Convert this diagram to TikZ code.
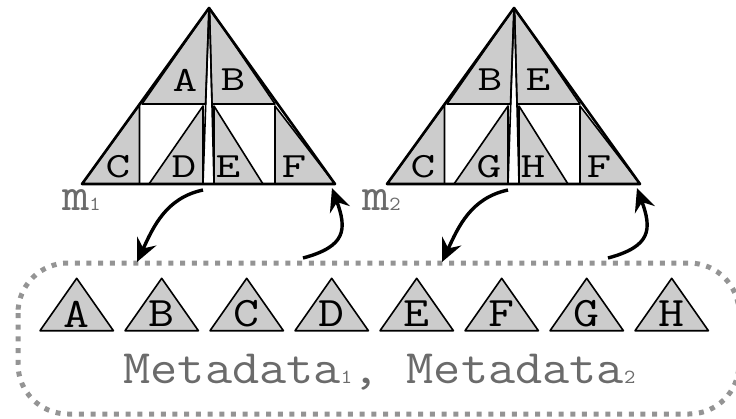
\documentclass[tikz,border=0pt]{standalone}
\usepackage{fontspec}
\usetikzlibrary{arrows.meta}
\colorlet{leaf}{black!20}
\colorlet{taggray}{black!58}
\colorlet{boxgray}{black!42}
\newcommand{\subnum}[1]{{\fontsize{20}{20}\selectfont #1}}

\begin{document}
\begin{tikzpicture}[x=1pt, y=1pt, line join=round, font=\ttfamily]
\tikzstyle{piece}=[fill=leaf, draw=black, line width=1.6pt]
\tikzstyle{shell}=[draw=black, line width=2.6pt]
\tikzstyle{letter}=[inner sep=0pt, font=\ttfamily\fontsize{35.5}{36}\selectfont]
\tikzstyle{small letter}=[inner sep=0pt, font=\ttfamily\fontsize{42}{42}\selectfont]
\tikzstyle{tag}=[inner sep=0pt, text=taggray, anchor=base west, font=\ttfamily\fontsize{48}{48}\selectfont]
\tikzstyle{link}=[-{Stealth[length=23pt,width=21pt,inset=8pt]}, line width=3.4pt]
\useasboundingbox (0,0) rectangle (736,-418);

% metadata store
\draw[draw=boxgray, line width=5pt, dash pattern=on 5pt off 6.7pt, rounded corners=50pt]
  (18,-263) rectangle (739,-414);
\foreach \l [count=\i from 0] in {A,...,H} {
  \filldraw[piece] (40+85*\i,-330.7) -- ++(36.7,52.4) -- ++(36.7,-52.4) -- cycle;
  \node[small letter] (leaf-\l) at (76.7+85*\i,-314) {\scalebox{1.2}[1]{\l}};
}
\node[tag, anchor=base] (meta) at (379.5,-383)
  {\scalebox{1.1}[1]{Metadata\subnum{1}, Metadata\subnum{2}}};

% the two trees and their links to the store
\foreach \sx/\mx/\m/\a/\b/\c/\d/\e/\f in {0/62/1/A/B/C/D/E/F, 305/57/2/B/E/C/G/H/F}{
\begin{scope}[xshift=\sx]
  \filldraw[piece] (209,-8) -- (142,-104) -- (205.5,-104) -- cycle;
  \filldraw[piece] (209.5,-8) -- (212,-104) -- (275,-104) -- cycle;
  \filldraw[piece] (82,-184) -- (139.5,-105) -- (139.5,-184) -- cycle;
  \filldraw[piece] (149,-184) -- (203,-106) -- (203,-184) -- cycle;
  \filldraw[piece] (214,-106) -- (214,-184) -- (263,-184) -- cycle;
  \filldraw[piece] (275,-106) -- (275,-184) -- (335,-184) -- cycle;
  \draw[shell] (82,-184) -- (209,-8) -- (335,-184) -- cycle;
  \draw[piece] (209,-8) -- (203,-184);
  \draw[piece] (209.5,-8) -- (214,-184);
  \node[letter] (m\m-a) at (185,-80) {\scalebox{1.35}[1]{\a}};
  \node[letter] (m\m-b) at (233,-80) {\scalebox{1.35}[1]{\b}};
  \node[letter] (m\m-c) at (118,-167) {\scalebox{1.35}[1]{\c}};
  \node[letter] (m\m-d) at (184,-167) {\scalebox{1.35}[1]{\d}};
  \node[letter] (m\m-e) at (228,-167) {\scalebox{1.35}[1]{\e}};
  \node[letter] (m\m-f) at (294,-167) {\scalebox{1.35}[1]{\f}};
  \node[tag] (m\m) at (\mx,-210) {\scalebox{1.1}[1]{m\subnum{\m}}};
  \coordinate (m\m-out) at (203,-190);
  \coordinate (m\m-back) at (332,-188);
  \coordinate (store-in\m) at (137,-262);
  \coordinate (store-out\m) at (303,-258);
  \draw[link] (m\m-out) to[out=192, in=65] (store-in\m);
  \draw[link] (store-out\m) to[out=15, in=-70, looseness=1.5] (m\m-back);
\end{scope}
}
\end{tikzpicture}
\end{document}
